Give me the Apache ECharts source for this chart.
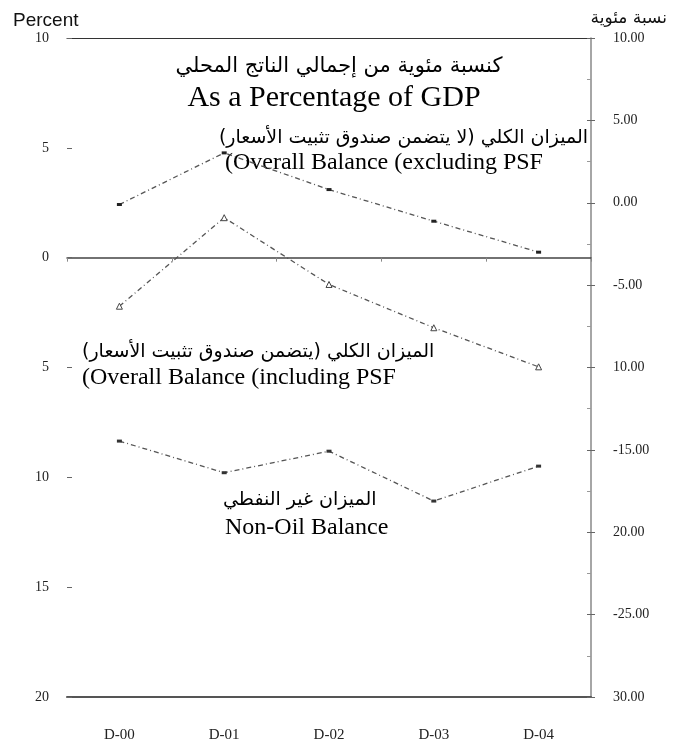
<!DOCTYPE html>
<html>
<head>
<meta charset="utf-8">
<script src="https://cdn.jsdelivr.net/npm/echarts@6/dist/echarts.min.js"></script>
<style>
html, body { margin: 0; padding: 0; background: #fff; }
#chart { width: 684px; height: 740px; }
</style>
</head>
<body>
<div id="chart"></div>
<script>
// data
const years = ['D-00', 'D-01', 'D-02', 'D-03', 'D-04']
const overallExclPSF = [2.42, 4.77, 3.10, 1.66, 0.25]
const overallInclPSF = [-2.21, 1.82, -1.22, -3.19, -4.97]
const nonOilBalance = [-8.35, -9.79, -8.81, -11.08, -9.49]

// tick labels as printed, bottom to top
const leftTickLabels = ['20', '15', '10', '5', '0', '5', '10']
const rightTickLabels = ['30.00', '-25.00', '20.00', '-15.00', '10.00', '-5.00', '0.00', '5.00', '10.00']

const RLM = '\u200F'
const serif = '"Liberation Serif", "Times New Roman", serif'
const arabic = '"DejaVu Sans", sans-serif'
const lineColor = '#555'
const dashDot = [5, 3, 1, 3]

const chart = echarts.init(document.getElementById('chart'))

const tickFont = { fontFamily: serif, fontSize: 14, color: '#222' }

chart.setOption({
	animation: false,
	grid: { left: 67, right: 93, top: 38, bottom: 43, containLabel: false, outerBoundsMode: 'none' },
	xAxis: [
		{
			type: 'category', data: years, position: 'bottom',
			axisLine: { onZero: false, lineStyle: { color: '#555', width: 2 } },
			axisTick: { show: false },
			axisLabel: { ...tickFont, fontSize: 15, margin: 31 },
		},
		{
			// top border line
			type: 'category', data: years, position: 'top',
			axisLine: { onZero: false, lineStyle: { color: '#333', width: 1 } },
			axisTick: { show: false }, axisLabel: { show: false },
		},
		{
			// zero line
			type: 'category', data: years, position: 'bottom',
			axisLine: { onZero: true, onZeroAxisIndex: 0, lineStyle: { color: '#444', width: 1.5 } },
			axisTick: { show: true, length: 4, lineStyle: { color: '#888' } },
			axisLabel: { show: false },
		},
	],
	yAxis: [
		{
			type: 'value', position: 'left', min: -20, max: 10, interval: 5,
			axisLine: { show: false },
			axisTick: { show: true, inside: true, length: 5, lineStyle: { color: '#666' } },
			splitLine: { show: false },
			axisLabel: {
				...tickFont, margin: 18,
				formatter: (v) => leftTickLabels[Math.round((v + 20) / 5)],
			},
		},
		{
			type: 'value', position: 'right', min: -30, max: 10, interval: 5,
			axisLine: { show: true, lineStyle: { color: '#888', width: 1.5 } },
			axisTick: { show: true, length: 4, lineStyle: { color: '#666' } },
			splitLine: { show: false },
			axisLabel: {
				...tickFont, margin: 22,
				formatter: (v) => rightTickLabels[Math.round((v + 30) / 5)],
			},
		},
		{
			// inner ticks + minor ticks of the right axis
			type: 'value', position: 'right', min: -30, max: 10, interval: 5,
			axisLine: { show: false },
			axisTick: { show: true, inside: true, length: 4, lineStyle: { color: '#666' } },
			minorTick: { show: true, splitNumber: 2, length: 4, lineStyle: { color: '#999' } },
			splitLine: { show: false },
			axisLabel: { show: false },
		},
	],
	series: [
		{
			name: 'Overall Balance (excluding PSF)', type: 'line', data: overallExclPSF,
			symbol: 'rect', symbolSize: [5, 3],
			lineStyle: { color: lineColor, width: 1.3, type: dashDot },
			itemStyle: { color: '#222' },
		},
		{
			name: 'Overall Balance (including PSF)', type: 'line', data: overallInclPSF,
			symbol: 'triangle', symbolSize: 6,
			lineStyle: { color: lineColor, width: 1.3, type: dashDot },
			itemStyle: { color: '#fff', borderColor: '#444', borderWidth: 1 },
		},
		{
			name: 'Non-Oil Balance', type: 'line', data: nonOilBalance,
			symbol: 'rect', symbolSize: [5, 3],
			lineStyle: { color: lineColor, width: 1.3, type: dashDot },
			itemStyle: { color: '#333' },
		},
	],
	graphic: [
		{ type: 'text', x: 13, y: 21, style: { text: 'Percent', font: '19px "Liberation Sans", Arial, sans-serif', fill: '#111', verticalAlign: 'middle' } },
		{ type: 'text', x: 667, y: 19, style: { text: 'نسبة مئوية', font: '17px ' + arabic, fill: '#111', align: 'right', verticalAlign: 'middle' } },
		{ type: 'text', x: 339, y: 67, style: { text: 'كنسبة مئوية من إجمالي الناتج المحلي', font: '21px ' + arabic, fill: '#000', align: 'center', verticalAlign: 'middle' } },
		{ type: 'text', x: 334, y: 98, style: { text: 'As a Percentage of GDP', font: '30px ' + serif, fill: '#000', align: 'center', verticalAlign: 'middle' } },
		{ type: 'text', x: 588, y: 138, style: { text: RLM + 'الميزان الكلي (لا يتضمن صندوق تثبيت الأسعار)' + RLM, font: '19px ' + arabic, fill: '#000', align: 'right', verticalAlign: 'middle' } },
		{ type: 'text', x: 225, y: 163, style: { text: '(Overall Balance (excluding PSF', font: '24px ' + serif, fill: '#000', verticalAlign: 'middle' } },
		{ type: 'text', x: 82, y: 352, style: { text: RLM + 'الميزان الكلي (يتضمن صندوق تثبيت الأسعار)' + RLM, font: '19px ' + arabic, fill: '#000', verticalAlign: 'middle' } },
		{ type: 'text', x: 82, y: 378, style: { text: '(Overall Balance (including PSF', font: '24px ' + serif, fill: '#000', verticalAlign: 'middle' } },
		{ type: 'text', x: 223, y: 500, style: { text: 'الميزان غير النفطي', font: '19px ' + arabic, fill: '#000', verticalAlign: 'middle' } },
		{ type: 'text', x: 225, y: 528, style: { text: 'Non-Oil Balance', font: '24px ' + serif, fill: '#000', verticalAlign: 'middle' } },
	],
})

window.addEventListener('resize', () => {
	chart.resize()
})
</script>
</body>
</html>
